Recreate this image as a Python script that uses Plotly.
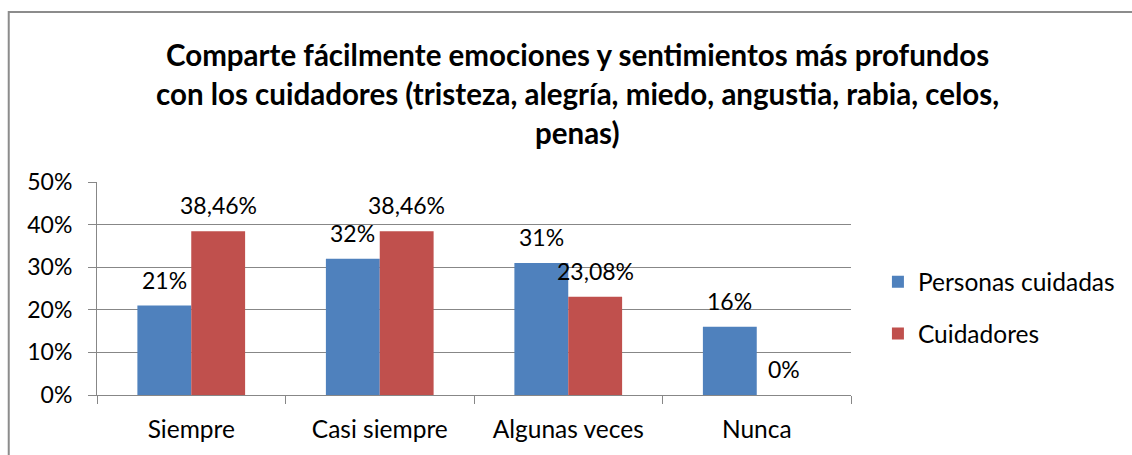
import plotly.graph_objects as go

categories = ["Siempre", "Casi siempre", "Algunas veces", "Nunca"]
personas_cuidadas = [21, 32, 31, 16]
cuidadores = [38.46, 38.46, 23.08, 0]
labels_personas = ["21%", "32%", "31%", "16%"]
labels_cuidadores = ["38,46%", "38,46%", "23,08%", "0%"]
title_lines = [
    "Comparte fácilmente emociones y sentimientos más profundos",
    "con los cuidadores (tristeza, alegría, miedo, angustia, rabia, celos,",
    "penas)",
]
y_ticks = [0, 10, 20, 30, 40, 50]
y_ticktext = ["0%", "10%", "20%", "30%", "40%", "50%"]

FONT = "Lato"
BLUE = "#4F81BD"
RED = "#C0504D"
GRID = "#878787"

W, H = 1132, 455
L, R, T, B = 97, 1132 - 853, 182, 455 - 397
pw, ph = W - L - R, H - T - B

def px_x(px):
    return (px - L) / pw

def px_y(py):
    return (H - B - py) / ph

fig = go.Figure()
fig.add_trace(go.Bar(name="Personas cuidadas", x=categories, y=personas_cuidadas,
                     marker=dict(color=BLUE, line=dict(width=0)), legendgroup="a"))
fig.add_trace(go.Bar(name="Cuidadores", x=categories, y=cuidadores,
                     marker=dict(color=RED, line=dict(width=0)), legendgroup="b"))

bargap = 81 / 189
bar_px = pw / len(categories) * (1 - bargap) / 2

annotations = []
for c, v, t in zip(categories, personas_cuidadas, labels_personas):
    annotations.append(dict(x=c, y=v, xref="x", yref="y", text=t, showarrow=False,
                            xshift=-bar_px / 2, yshift=26, yanchor="middle",
                            font=dict(family=FONT, size=23, color="black")))
for c, v, t in zip(categories, cuidadores, labels_cuidadores):
    annotations.append(dict(x=c, y=v, xref="x", yref="y", text=t, showarrow=False,
                            xshift=bar_px / 2, yshift=26, yanchor="middle",
                            font=dict(family=FONT, size=23, color="black")))

for line, py in zip(title_lines, [53, 93, 132]):
    annotations.append(dict(x=px_x(579), y=px_y(py), xref="paper", yref="paper",
                            text="<b>" + line + "</b>", showarrow=False,
                            xanchor="center", yanchor="middle",
                            font=dict(family=FONT, size=29.5, color="black")))

fig.update_layout(
    width=W, height=H,
    margin=dict(l=L, r=R, t=T, b=B, pad=0),
    paper_bgcolor="white", plot_bgcolor="white",
    barmode="group", bargap=bargap, bargroupgap=0,
    font=dict(family=FONT, size=24.5, color="black"),
    showlegend=True,
    legend=dict(x=px_x(880), y=px_y(260), xanchor="left", yanchor="top",
                font=dict(family=FONT, size=24.5, color="black"),
                traceorder="grouped", tracegroupgap=17,
                itemwidth=30, bgcolor="rgba(0,0,0,0)"),
    annotations=annotations,
    shapes=[dict(type="rect", xref="paper", yref="paper",
                 x0=px_x(8.5), x1=px_x(1145), y0=px_y(470), y1=px_y(10.5),
                 line=dict(color="#8c8c8c", width=2), fillcolor="rgba(0,0,0,0)",
                 layer="below")],
    xaxis=dict(type="category", showline=True, linecolor=GRID, linewidth=1,
               ticks="outside", tickson="boundaries", ticklen=8, tickcolor=GRID,
               showgrid=False, ticklabelstandoff=13,
               tickfont=dict(family=FONT, size=24.5, color="black")),
    yaxis=dict(range=[0, 50], tickvals=y_ticks, ticktext=y_ticktext,
               showline=True, linecolor=GRID, linewidth=1,
               ticks="outside", ticklen=8, tickcolor=GRID,
               showgrid=True, gridcolor=GRID, gridwidth=1, zeroline=False,
               ticklabelstandoff=11,
               tickfont=dict(family=FONT, size=23, color="black")),
)

fig.write_html("out.html", config={"displayModeBar": False},
               post_script="document.body.style.margin='0';")
